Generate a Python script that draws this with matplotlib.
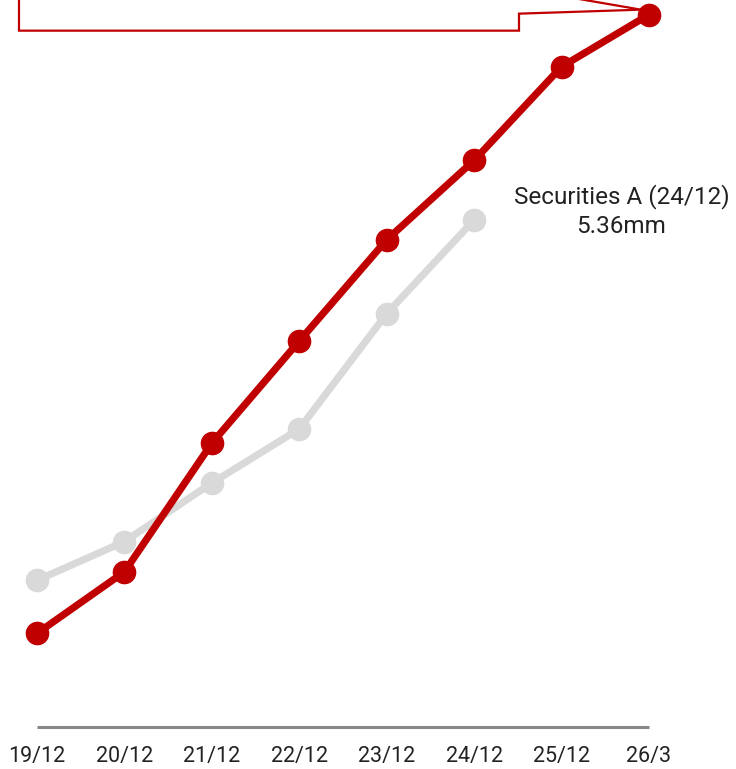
import matplotlib
matplotlib.use("Agg")
import matplotlib.pyplot as plt
from matplotlib.patches import Polygon

plt.rcParams['font.family'] = ['Roboto', 'DejaVu Sans']

# Data
dates = ["19/12", "20/12", "21/12", "22/12", "23/12", "24/12", "25/12", "26/3"]
main_series = [0.99, 1.64, 3.00, 4.08, 5.15, 5.99, 6.98, 7.53]
securities_a = [1.55, 1.96, 2.58, 3.15, 4.37, 5.36]
securities_a_label = "Securities A (24/12)"

RED = "#c00000"
GREY = "#d9d9d9"
TEXT = "#222222"

W, H, DPI = 736, 769, 100
fig = plt.figure(figsize=(W / DPI, H / DPI), dpi=DPI)
ax = fig.add_axes([0, 0, 1, 1])
ax.set_xlim(-0.423, 7.995)
ax.set_ylim(-0.444, 7.685)
ax.axis("off")

x_main = list(range(len(main_series)))
x_sec = list(range(len(securities_a)))

ax.plot(x_sec, securities_a, color=GREY, lw=5.2, marker="o", ms=16,
        solid_capstyle="round", zorder=2)
ax.plot(x_main, main_series, color=RED, lw=5.2, marker="o", ms=16,
        solid_capstyle="round", zorder=3)

# Baseline
ax.plot([0, len(dates) - 1], [0, 0], color="#888888", lw=2.2,
        solid_capstyle="butt", zorder=1)

for i, d in enumerate(dates):
    ax.text(i, -0.315, d, ha="center", va="center", fontsize=15.5, color=TEXT)

# Label for last Securities A point
ax.text(x_sec[-1] + 1.685, securities_a[-1] + 0.095,
        f"{securities_a_label}\n{securities_a[-1]:.2f}mm",
        ha="center", va="center", fontsize=17.5, color=TEXT, linespacing=1.32)

# Callout box with a tail pointing at the last main point (offsets in pixels)
px_x = 87.43
px_y = 94.6
tip_x = x_main[-1] - 8 / px_x
tip_y = main_series[-1] + 5 / px_y
box_left = x_main[-1] - 630 / px_x
box_right = x_main[-1] - 130 / px_x
box_bottom = main_series[-1] - 16 / px_y
box_top = main_series[-1] + 120 / px_y
callout = Polygon([
    (box_left, box_top),
    (box_left, box_bottom),
    (box_right, box_bottom),
    (box_right, main_series[-1] + 1 / px_y),
    (tip_x, tip_y),
    (box_right, main_series[-1] + 26 / px_y),
    (box_right, box_top),
], closed=True, facecolor="white", edgecolor=RED, lw=1.6, zorder=4)
ax.add_patch(callout)

fig.savefig("out.png", dpi=DPI)
